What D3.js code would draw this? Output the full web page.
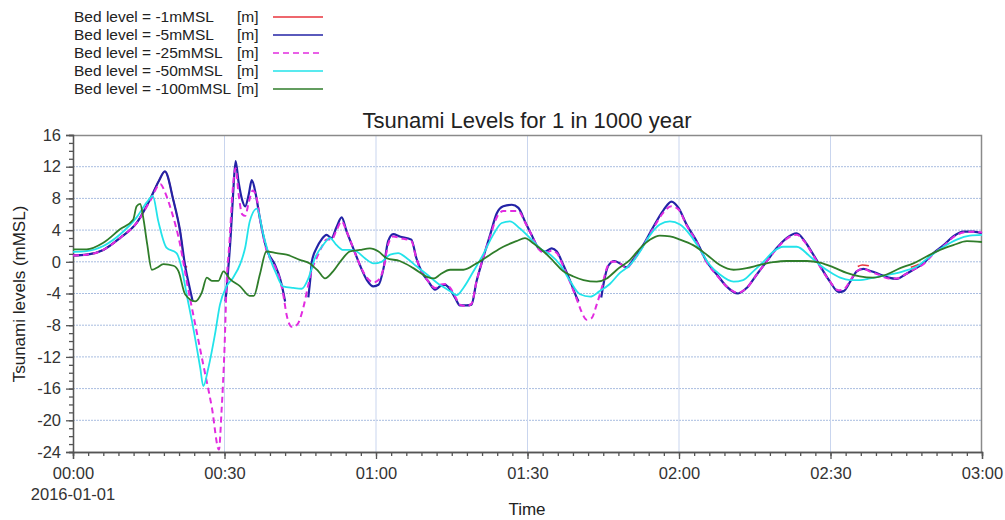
<!DOCTYPE html>
<html>
<head>
<meta charset="utf-8">
<script src="https://d3js.org/d3.v7.min.js"></script>
<style>
  body { margin: 0; background: #fff; }
  text { font-family: "Liberation Sans", Arial, sans-serif; }
</style>
</head>
<body>
<div id="chart"></div>
<script>
// Data: [minutes after 00:00, level mMSL], null = dry
//=====================================================================
var seriesNames = [
    "Bed level = -1mMSL",
    "Bed level = -5mMSL",
    "Bed level = -25mMSL",
    "Bed level = -50mMSL",
    "Bed level = -100mMSL"
];

var bed1 = [[0,0.8],[2.7,0.9],[6,1.5],[9.3,3.0],[12.6,4.9],[15.2,7.8],[17,10.2],[18.2,11.4],[19.9,7.7],
    [21.2,3.9],[22.2,-0.4],[22.6,-0.7],[22.7,null],[155.4,-0.6],[156.3,-0.4],[157.6,-0.5],[157.7,null],
    [165.9,-0.7],[166.8,-0.5],[167.5,-0.3]];

var bed5 = [[0,0.8],[2.7,0.9],[6,1.5],[9.3,3.0],[12.6,4.9],[15.2,7.8],[17,10.2],[18.2,11.4],[19.9,7.7],
    [21.2,3.9],[22.2,-0.5],[23,-3],[23.7,-5],[23.8,null],[30.2,-5],[30.6,-2],[31.2,3],[31.7,8.5],[32.2,12.7],
    [32.8,10],[33.5,7.8],[34.1,7.0],[34.8,8.5],[35.4,10.3],[36.2,8.5],[37,5.5],[38.3,1.7],[40,-0.4],[41,-2.1],
    [41.6,-3.7],[42,-5],[42.1,null],[46.6,-4.5],[47,-2.1],[47.3,0],[48.2,1.7],[49.2,2.8],[50.2,3.4],[51.2,3.0],
    [52.2,4.4],[53.2,5.6],[54.2,3.8],[55.5,1.7],[56.8,-0.4],[58.2,-2.3],[59.5,-3.1],[60.5,-2.9],[61.5,-0.8],
    [62.4,2.6],[63.4,3.5],[64.7,3.2],[67,2.8],[68,0.45],[69,-1.2],[70.4,-2.5],[71.7,-3.5],[72.7,-3.1],
    [73.7,-2.9],[74.7,-3.5],[75.7,-4.6],[76.6,-5.5],[77.9,-5.5],[78.9,-5.4],[79.9,-2.5],[81.2,0.45],
    [82.6,3.4],[83.9,6.1],[85.2,7.0],[86.9,7.2],[88.2,6.8],[89.5,5.1],[90.8,3.4],[92.2,1.7],[93.5,1.3],
    [94.8,1.7],[95.8,1.3],[97.1,-0.4],[98.5,-2.5],[99.8,-4.6],[100.1,-5],[100.2,null],[104.6,-4.5],
    [105.3,-2],[106,-0.5],[107.2,0.1],[108.3,-0.2],[109.6,-0.7],[110.9,0.25],[112.9,2.1],[114.9,4.4],
    [116.9,6.5],[118.5,7.6],[119.9,6.8],[121.5,4.7],[123.5,2.6],[125.5,0.0],[127.5,-1.6],[129.4,-3.1],
    [131.7,-4.0],[133.4,-3.3],[135.4,-1.6],[137.3,0.0],[139.3,1.7],[141.3,3.0],[143.3,3.6],[144.9,2.6],
    [146.6,0.9],[148.2,-0.8],[149.9,-2.5],[151.6,-3.8],[152.6,-3.7],[153.9,-2.5],[155.2,-1.2],[156.5,-0.9],
    [158.1,-1.2],[159.8,-1.6],[161.5,-2.0],[163.1,-2.15],[164.8,-1.6],[166.4,-1.0],[168.4,-0.2],[170.4,1.1],
    [172.4,2.1],[174.3,3.2],[176.3,3.8],[178.3,3.8],[180,3.6]];

var bed25 = [[0,0.8],[2.7,0.9],[6,1.5],[9.3,3.0],[12.6,4.9],[15.2,7.6],[17.3,9.8],[18.2,8.8],[19.5,6.4],
    [21.2,2.2],[22.5,-2.4],[24.2,-7.9],[25.8,-13],[27.5,-18.4],[28.9,-23.7],[29.4,-19],[30,-11],[30.4,-3],
    [31,2.6],[31.6,8.9],[32.2,11.8],[32.8,8.5],[33.5,6.0],[34.1,5.8],[34.8,7.5],[35.6,9.0],[36.3,8.2],
    [37,5.5],[38.3,1.5],[40,-0.6],[41,-2.3],[41.6,-4.0],[42.3,-6.7],[43.3,-8.2],[44.3,-8.0],[45.6,-5.8],
    [46.6,-2.9],[47.3,-1.0],[48.2,0.4],[49.2,1.8],[50.2,2.8],[51.2,2.8],[52.2,4.0],[53.2,5.1],[54.2,3.8],
    [55.5,1.7],[56.8,-0.4],[58.2,-2.0],[59.5,-2.6],[60.5,-2.3],[61.5,-0.8],[62.4,2.2],[63.4,3.2],[64.7,3.0],
    [67,2.6],[68,0.45],[69,-1.2],[70.4,-2.5],[71.7,-3.3],[72.7,-2.9],[73.7,-2.8],[74.7,-3.3],[75.7,-4.4],
    [76.6,-5.4],[77.9,-5.6],[78.9,-5.3],[79.9,-2.5],[81.2,0.45],[82.6,3.2],[83.9,5.6],[85.2,6.4],[86.9,6.4],
    [88.2,6.4],[89.5,5.0],[90.8,3.4],[92.2,1.6],[93.5,1.1],[94.8,1.4],[95.8,1.1],[97.1,-0.6],[98.5,-2.7],
    [99.8,-4.8],[100.7,-6.3],[101.7,-7.3],[102.7,-7.1],[103.7,-5.4],[104.7,-3.3],[105.7,-0.8],[106.7,0.0],
    [107.7,0.0],[108.5,-0.3],[109.6,-0.8],[110.9,0.1],[112.9,2.0],[114.9,4.2],[116.9,6.2],[118.5,7.0],
    [119.9,6.6],[121.5,4.6],[123.5,2.5],[125.5,-0.1],[127.5,-1.7],[129.4,-3.1],[131.7,-3.9],[133.4,-3.3],
    [135.4,-1.6],[137.3,0],[139.3,1.6],[141.3,2.9],[143.3,3.4],[144.9,2.5],[146.6,0.8],[148.2,-0.9],
    [149.9,-2.5],[151.6,-3.6],[152.6,-3.5],[153.9,-2.4],[155.2,-1.2],[156.5,-0.9],[158.1,-1.3],[159.8,-1.7],
    [161.5,-2.1],[163.1,-2.1],[164.8,-1.6],[166.4,-1.0],[168.4,-0.3],[170.4,1.0],[172.4,2.0],[174.3,3.1],
    [176.3,3.7],[178.3,3.8],[180,3.7]];

var bed50 = [[0,1.26],[2.7,1.35],[6,2.0],[9.3,3.45],[12.6,5.6],[14.6,7.5],[15.8,8.3],[16.9,5.1],[18.5,1.8],
    [20.5,1.1],[21.5,-0.75],[22.5,-4.1],[23.8,-8.3],[25.2,-13.4],[25.8,-15.7],[26.8,-13.4],[28.1,-9.2],
    [29.1,-5.4],[30.4,-3.1],[31.7,-2.0],[33.1,-0.3],[34.1,1.8],[35,5.1],[36.4,6.7],[37.7,3.4],[39,0.45],
    [40.3,-1.6],[41.6,-3.1],[43.6,-3.3],[45.3,-3.4],[46.6,-2.1],[47.9,0.45],[49.5,2.1],[50.9,3.0],[52.2,2.1],
    [53.5,1.5],[54.8,1.5],[56.2,1.3],[57.8,0.45],[59.5,-0.2],[61.1,0],[62.8,0.9],[64.4,1.1],[66.1,0.45],
    [68.1,-0.6],[70.1,-1.6],[72,-2.6],[74.7,-3.7],[76,-4.2],[77.3,-3.3],[79.3,-1.2],[81.2,0.9],[83.2,3.4],
    [84.9,4.9],[86.5,5.1],[88.5,4.2],[90.5,3.0],[92.5,1.7],[94.5,0.9],[96.5,-0.4],[98.5,-2.5],[100.4,-4.1],
    [102.4,-4.4],[104.3,-3.7],[106.3,-2.8],[108.3,-1.4],[110.3,-0.4],[112.3,1.3],[114.3,3.4],[116.2,4.7],
    [118.2,5.1],[120.2,4.7],[122.2,3.4],[124.2,1.5],[126.1,-0.4],[128.1,-1.6],[130.8,-2.5],[132.7,-2.3],
    [134.7,-1.2],[136.7,0],[138.7,1.3],[140.6,1.9],[143.3,1.9],[145.9,0.7],[147.9,-0.4],[149.9,-1.3],
    [151.9,-2.0],[153.9,-2.3],[155.8,-2.3],[157.8,-2.1],[159.8,-1.85],[161.8,-1.6],[164.4,-1.2],[167.1,-0.6],
    [169.7,0.7],[172.4,1.9],[175,2.8],[177.6,3.3],[180,3.4]];

var bed100 = [[0,1.56],[2.7,1.56],[6,2.4],[9.3,4.1],[11.9,5.3],[12.6,7.0],[13.3,7.3],[13.9,5.6],[14.7,2.2],
    [15.6,-1.0],[16.6,-0.75],[17.9,-0.3],[19.9,-0.5],[20.9,-1.2],[22.2,-4.1],[24.2,-5.0],[25.5,-3.9],
    [26.5,-2.0],[27.5,-2.4],[28.8,-2.4],[29.8,-1.2],[31.1,-2.2],[33.1,-3.1],[35,-4.3],[35.8,-4.3],[37,-1.6],
    [38.3,1.3],[40.3,1.1],[42.3,0.9],[44.9,0.25],[46.9,-0.2],[48.6,-1.2],[49.9,-2.1],[51.5,-1.2],[53.2,0.25],
    [54.8,1.3],[56.8,1.5],[58.8,1.7],[60.5,1.3],[62.1,0.45],[64.7,0.1],[67.4,-0.8],[70.1,-1.9],[71.5,-2.1],
    [72.7,-1.6],[74.7,-1.0],[77.3,-1.0],[79.9,-0.2],[82.6,0.9],[85.2,1.9],[87.8,2.6],[89.5,3.0],[91.2,2.3],
    [93.2,1.3],[95.2,0.03],[97.1,-1.2],[99.1,-1.85],[101.1,-2.3],[103.7,-2.5],[105.7,-2.1],[107.7,-1.0],
    [110.3,0.25],[112.3,1.7],[114.3,2.8],[116.2,3.3],[118.2,3.2],[120.2,2.8],[122.8,2.1],[125.5,0.9],
    [128.1,-0.4],[130.8,-1.0],[133.4,-0.8],[136,-0.4],[138.7,-0.05],[141.3,0.1],[145.3,0.1],[147.9,-0.1],
    [150.6,-0.7],[153.2,-1.4],[155.8,-1.85],[158.5,-2.0],[161.1,-1.6],[163.8,-0.8],[166.4,-0.2],[169.1,0.7],
    [171.7,1.5],[174.3,2.1],[177,2.6],[180,2.5]];

var yTicks = [16, 12, 8, 4, 0, -4, -8, -12, -16, -20, -24];
var xTicks = [0, 30, 60, 90, 120, 150, 180];
var xTickLabels = ["00:00", "00:30", "01:00", "01:30", "02:00", "02:30", "03:00"];

// Chart setup
//=====================================================================
var svgWidth = 1005;
var svgHeight = 520;
var margin = { top: 135, right: 23, bottom: 68, left: 73 };
var width = svgWidth - margin.left - margin.right;
var height = svgHeight - margin.top - margin.bottom;

var svg = d3.select("#chart")
    .append("svg")
    .attr("width", svgWidth)
    .attr("height", svgHeight);

var chartGroup = svg.append("g")
    .attr("transform", `translate(${margin.left}, ${margin.top})`);

var xScale = d3.scaleLinear().domain([0, 180]).range([0, width]);
var yScale = d3.scaleLinear().domain([-24, 16]).range([height, 0]);

// Grid lines
chartGroup.append("g")
    .selectAll("line")
    .data(yTicks.filter(d => d > -24 && d < 16))
    .enter()
    .append("line")
    .attr("x1", 0).attr("x2", width)
    .attr("y1", d => yScale(d)).attr("y2", d => yScale(d))
    .attr("stroke", "#a9bde0")
    .attr("stroke-width", 1)
    .attr("stroke-dasharray", "2,1");

chartGroup.append("g")
    .selectAll("line")
    .data(xTicks.filter(d => d > 0 && d < 180))
    .enter()
    .append("line")
    .attr("x1", d => xScale(d)).attr("x2", d => xScale(d))
    .attr("y1", 0).attr("y2", height)
    .attr("stroke", "#c9d5ee")
    .attr("stroke-width", 1);

// Frame (top and right)
chartGroup.append("path")
    .attr("d", `M0,0.5H${width - 0.5}V${height}`)
    .attr("fill", "none")
    .attr("stroke", "#8a8a8a")
    .attr("stroke-width", 1.5);

// Axes
//=====================================================================
var bottomMinor = d3.axisBottom(xScale).tickValues(d3.range(0, 181, 3)).tickSize(4).tickFormat("");
var bottomAxis = d3.axisBottom(xScale).tickValues(xTicks).tickSize(7)
    .tickFormat((d, i) => xTickLabels[i]).tickPadding(8);
var leftMinor = d3.axisLeft(yScale).tickValues(d3.range(-24, 17, 1)).tickSize(4).tickFormat("");
var leftAxis = d3.axisLeft(yScale).tickValues(yTicks).tickSize(7).tickPadding(5)
    .tickFormat(d => String(d));

[bottomMinor, bottomAxis].forEach(function (ax) {
    chartGroup.append("g")
        .attr("class", "axis")
        .attr("transform", `translate(0, ${height})`)
        .call(ax);
});
[leftMinor, leftAxis].forEach(function (ax) {
    chartGroup.append("g")
        .attr("class", "axis")
        .call(ax);
});

chartGroup.selectAll(".axis path, .axis line")
    .attr("stroke", "#555")
    .attr("stroke-width", 1.3);
chartGroup.selectAll(".axis text")
    .attr("fill", "#333")
    .style("font-size", "16.5px");

// Lines
//=====================================================================
var line = d3.line()
    .defined(d => d[1] !== null)
    .x(d => xScale(d[0]))
    .y(d => yScale(d[1]))
    .curve(d3.curveMonotoneX);

var series = [
    { data: bed1, color: "#e8343c", dash: null, w: 1.6 },
    { data: bed5, color: "#2323a6", dash: null, w: 2.2 },
    { data: bed25, color: "#e22ce0", dash: "6,4", w: 2.0 },
    { data: bed50, color: "#22e3ea", dash: null, w: 1.8 },
    { data: bed100, color: "#2f7d2a", dash: null, w: 1.8 }
];

var plot = chartGroup.append("g");
series.forEach(function (s) {
    plot.append("path")
        .datum(s.data)
        .attr("d", line)
        .attr("fill", "none")
        .attr("stroke", s.color)
        .attr("stroke-width", s.w)
        .attr("stroke-dasharray", s.dash)
        .attr("stroke-linejoin", "round");
});

// Labels
//=====================================================================
svg.append("text")
    .attr("x", 527)
    .attr("y", 128)
    .attr("text-anchor", "middle")
    .style("font-size", "22px")
    .attr("fill", "#222")
    .text("Tsunami Levels for 1 in 1000 year");

svg.append("text")
    .attr("transform", "rotate(-90)")
    .attr("x", -294)
    .attr("y", 25)
    .attr("text-anchor", "middle")
    .style("font-size", "17px")
    .attr("fill", "#222")
    .text("Tsunami levels (mMSL)");

svg.append("text")
    .attr("x", 527)
    .attr("y", 515)
    .attr("text-anchor", "middle")
    .style("font-size", "17px")
    .attr("fill", "#222")
    .text("Time");

svg.append("text")
    .attr("x", margin.left)
    .attr("y", 500)
    .attr("text-anchor", "middle")
    .style("font-size", "16.5px")
    .attr("fill", "#333")
    .text("2016-01-01");

// Legend
var legend = svg.append("g");
series.forEach(function (s, i) {
    var y = 17 + i * 18;
    legend.append("text")
        .attr("x", 74).attr("y", y + 5)
        .style("font-size", "15.5px")
        .attr("fill", "#222")
        .text(seriesNames[i]);
    legend.append("text")
        .attr("x", 237).attr("y", y + 5)
        .style("font-size", "15.5px")
        .attr("fill", "#222")
        .text("[m]");
    legend.append("line")
        .attr("x1", 273).attr("x2", 323)
        .attr("y1", y).attr("y2", y)
        .attr("stroke", s.color)
        .attr("stroke-width", 1.6)
        .attr("stroke-dasharray", s.dash);
});
</script>
</body>
</html>
